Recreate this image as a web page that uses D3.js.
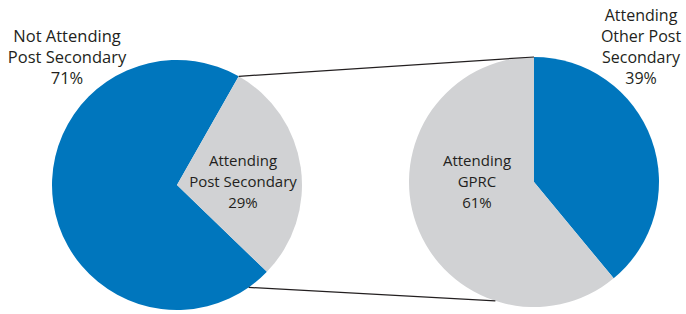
<!DOCTYPE html>
<html>
<head>
<meta charset="utf-8">
<script src="https://cdn.jsdelivr.net/npm/d3@7"></script>
<style>
  body { margin: 0; background: #fff; }
  text { font-family: "Open Sans", sans-serif; fill: #231f20; }
</style>
</head>
<body>
<script>
// data
var leftCategories = ["Not Attending Post Secondary", "Attending Post Secondary"];
var leftValues = [71, 29];
var rightCategories = ["Attending Other Post Secondary", "Attending GPRC"];
var rightValues = [39, 61];

var blue = "#0076bd", grey = "#d1d2d4";

var svg = d3.select("body").append("svg")
  .attr("width", 686)
  .attr("height", 314);

var r = 125;
var deg = Math.PI / 180;
var left = { cx: 177, cy: 185, start: 134 * deg },
  right = { cx: 534, cy: 182, start: 0 };

var colour = d3.scaleOrdinal().domain([0, 1]).range([blue, grey]);
var arc = d3.arc().innerRadius(0).outerRadius(r);

function point(p, a) {
  return [p.cx + r * Math.sin(a), p.cy - r * Math.cos(a)];
}

function drawPie(p, values) {
  var arcs = d3.pie().sort(null)
    .startAngle(p.start)
    .endAngle(p.start + 2 * Math.PI)(values);
  svg.append("g")
    .attr("transform", "translate(" + p.cx + "," + p.cy + ")")
    .selectAll("path")
    .data(arcs)
    .enter().append("path")
    .attr("d", arc)
    .attr("fill", function (d, i) { return colour(i); });
  return arcs;
}

var la = drawPie(left, leftValues);
var ra = drawPie(right, rightValues);

// connector lines from the exploded slice to the second pie
var links = [
  [point(left, la[1].startAngle), point(right, ra[0].startAngle)],
  [point(left, 145 * deg), point(right, 198 * deg)]
];
svg.selectAll("line.link")
  .data(links)
  .enter().append("line")
  .attr("class", "link")
  .attr("x1", function (d) { return d[0][0]; })
  .attr("y1", function (d) { return d[0][1]; })
  .attr("x2", function (d) { return d[1][0]; })
  .attr("y2", function (d) { return d[1][1]; })
  .attr("stroke", "#231f20")
  .attr("stroke-width", 1.2);

function label(x, y, size, lines) {
  var t = svg.append("text")
    .attr("x", x)
    .attr("y", y)
    .attr("text-anchor", "middle")
    .attr("font-size", size);
  lines.forEach(function (s, i) {
    t.append("tspan").attr("x", x).attr("y", y + i * 21).text(s);
  });
}

function pct(v) { return v + "%"; }

label(67, 42, 16.5, ["Not Attending", "Post Secondary", pct(leftValues[0])]);
label(243, 166, 15, ["Attending", "Post Secondary", pct(leftValues[1])]);
label(477, 166, 15, ["Attending", "GPRC", pct(rightValues[1])]);
label(641, 21, 16, ["Attending", "Other Post", "Secondary", pct(rightValues[0])]);
</script>
</body>
</html>
